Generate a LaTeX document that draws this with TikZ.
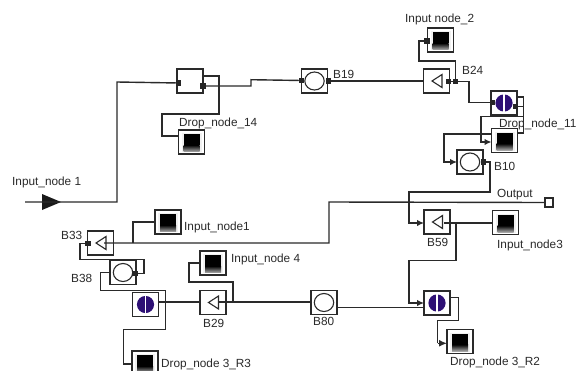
\documentclass[tikz,border=0pt]{standalone}
\usepackage{fontspec}
\setmainfont{Liberation Sans}
\usetikzlibrary{arrows.meta}
\definecolor{ink}{HTML}{2A2A2A}
\definecolor{purp}{HTML}{2E1075}
\tikzset{
  box/.style={draw=ink,line width=1.4pt,fill=white,minimum width=26pt,minimum height=24pt,inner sep=0pt,outer sep=0pt},
  tribox/.style={box,path picture={\draw[ink,line width=1.1pt,line join=miter] ([xshift=-4.5pt]path picture bounding box.center) -- ++(10,-6.5) -- ++(0,13) -- cycle;}},
  circbox/.style={box,path picture={\draw[ink,line width=1.1pt] (path picture bounding box.center) ellipse (9.7pt and 9pt);}},
  splitbox/.style={box,path picture={\fill[purp] (path picture bounding box.center) circle (8.6pt);\fill[white] ([xshift=-.6pt,yshift=-11pt]path picture bounding box.center) rectangle ([xshift=.6pt,yshift=11pt]path picture bounding box.center);}},
  srcbox/.style={box,path picture={
    \fill[black!6] ([shift={(-10pt,9pt)}]path picture bounding box.center) rectangle ([shift={(10pt,-10pt)}]path picture bounding box.center);
    \fill[black] ([shift={(-8pt,8pt)}]path picture bounding box.center) rectangle ([shift={(8pt,-3pt)}]path picture bounding box.center);
    \shade[top color=black,bottom color=black!35] ([shift={(-8pt,-3pt)}]path picture bounding box.center) rectangle ([shift={(8pt,-9.5pt)}]path picture bounding box.center);}},
  wire/.style={draw=ink,line width=1.4pt,line join=miter},
  warrow/.style={wire,-{Latex[length=7pt,width=6.5pt]}},
  port/.style={fill=black!85,draw=none,minimum size=5.5pt,inner sep=0pt,outer sep=0pt},
  lab/.style={anchor=base west,inner sep=0pt,text=ink,font=\fontsize{11.8pt}{12pt}\selectfont},
}
\begin{document}
\begin{tikzpicture}[x=1pt,y=-1pt]
\useasboundingbox[fill=white] (0,0) rectangle (579,370);
% blocks
\node[box] (b0) at (190,81) {};
\node[circbox] (b19) at (314.5,81) {};
\node[tribox] (b24) at (436.5,81) {};
\node[srcbox] (in2) at (440.5,40) {};
\node[srcbox] (dn14) at (191.5,142) {};
\node[splitbox] (sp1) at (504,103) {};
\node[srcbox] (dn11) at (504.5,140.5) {};
\node[circbox] (b10) at (470,162) {};
\node[tribox] (b59) at (437,222) {};
\node[srcbox] (in3) at (505.5,222.5) {};
\node[tribox] (b33) at (100.5,243) {};
\node[srcbox] (in1b) at (168,222) {};
\node[circbox] (b38) at (123,272.5) {};
\node[splitbox] (sp2) at (145.5,304.5) {};
\node[tribox] (b29) at (213,302.5) {};
\node[srcbox] (in4) at (213,263) {};
\node[circbox] (b80) at (324,302.5) {};
\node[splitbox] (sp3) at (437,303) {};
\node[srcbox] (dnr2) at (460,341.5) {};
\node[srcbox] (dnr3) at (145,363) {};
\node[draw=ink,line width=1.4pt,fill=white,minimum width=8pt,minimum height=9pt,inner sep=0pt,outer sep=0pt] (out) at (549,202.5) {};
% ports
\node[port] (b0l) at (178.5,83) {};
\node[port] (b0r) at (203,86) {};
\node[port] (b19l) at (301.5,80.5) {};
\node[port] (b19r) at (328.5,81) {};
\node[port] (b24r) at (448.5,81.5) {};
\node[port] (b24j) at (455.5,81.5) {};
\node[port] (in2p) at (427,41) {};
\node[port] (sp1l) at (492.5,102.5) {};
\node[port] (sp1r) at (515.5,106.5) {};
\node[port] (b10r) at (483.5,162) {};
\node[port] (b33l) at (88,243.3) {};
\node[port] (b38r) at (135,273.5) {};
% input
\coordinate (src) at (25,202);
\fill[black!90] (42,194) -- (61,202) -- (42,210) -- cycle;
% wires
\draw[wire] (src) -- (117,202) -- (117,82) -- (b0l);
\draw[wire] (b0r) -- (251,86) -- (251,79.7) -- (b19l);
\draw[wire] (b0.east |- 0,76) -- (219,76) -- (219,114) -- (162,114) -- (162,136) -- (dn14.west |- 0,136);
\draw[wire] (b19r) -- (b24.west |- b19r);
\draw[wire] (b24r) -- (b24j) -- (469,81.5) -- (469,102.5) -- (sp1l);
\draw[wire] (in2p) -- (419,41) -- (419,61) -- (455.5,61) -- (b24j);
\draw[wire] (sp1.east |- 0,97) -- (523.5,97) -- (523.5,133) -- (dn11.east |- 0,133);
\draw[wire] (sp1r) -- (523.5,106.5);
\draw[warrow] (523.5,116.5) -- (481,116.5) -- (481,142) -- (dn11.west |- 0,142);
\draw[warrow] (dn11.west |- 0,134) -- (444,134) -- (444,162) -- (b10.west);
\draw[warrow] (b10r) -- (490,162) -- (490,192) -- (409,192) -- (409,223) -- (b59.west |- 0,223);
\draw[wire] (out.west) -- (329,202) -- (329,243) -- (104,243);
\draw[wire] (in1b.west) -- (133,222) -- (133,243);
\draw[wire] (b33l) -- (80,243.3) -- (80,259.3) -- (144,259.3) -- (144,273.5) -- (b38r);
\draw[wire] (b38.west) -- (100.7,272.5) -- (100.7,290.7) -- (165.7,290.7) -- (165.7,329.3) -- (123.3,329.3) -- (123.3,364) -- (dnr3.west |- 0,364);
\draw[wire] (sp2.east |- 0,302) -- (b29.west |- 0,302);
\draw[wire] (b80.west |- 0,302) -- (218,302);
\draw[wire] (in4.west) -- (189,263) -- (189,282) -- (233,282) -- (233,302);
\draw[wire] (b80.east |- 0,307.7) -- (sp3.west |- 0,307.7);
\draw[wire] (in3.west |- 0,223) -- (443.5,223);
\draw[warrow] (456,223) -- (456,260.5) -- (409,260.5) -- (409,303) -- (sp3.west);
\draw[wire] (sp3.east |- 0,297.3) -- (458.3,297.3) -- (458.3,320.7) -- (437.7,320.7) -- (437.7,343.3);
\draw[wire,-{Latex[length=8pt,width=7pt]}] (437.7,343.3) -- (dnr2.west |- 0,343.3);
% labels
\node[lab] (l1) at (12,185) {Input\_node 1};
\node[lab] (l2) at (179,126) {Drop\_node\_14};
\node[lab] (l3) at (333,78) {B19};
\node[lab] (l4) at (405,22) {Input node\_2};
\node[lab] (l5) at (462,74) {B24};
\node[lab] (l6) at (499,127) {Drop\_node\_11};
\node[lab] (l7) at (494,170) {B10};
\node[lab] (l8) at (497,197) {Output};
\node[lab] (l9) at (427,246) {B59};
\node[lab] (l10) at (497,248) {Input\_node3};
\node[lab] (l11) at (313,325) {B80};
\node[lab] (l12) at (450,365) {Drop\_node 3\_R2};
\node[lab] (l13) at (161,367) {Drop\_node 3\_R3};
\node[lab] (l14) at (203,327) {B29};
\node[lab] (l15) at (231,262) {Input\_node 4};
\node[lab] (l16) at (184,230) {Input\_node1};
\node[lab] (l17) at (61,239) {B33};
\node[lab] (l18) at (71,282) {B38};
\end{tikzpicture}
\end{document}
